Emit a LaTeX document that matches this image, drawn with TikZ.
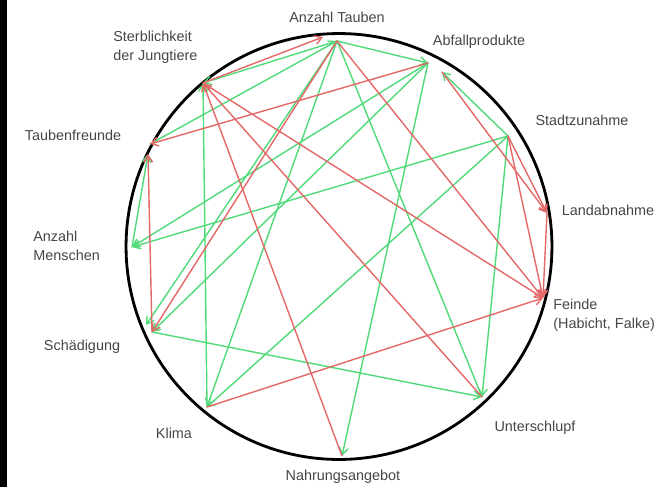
\documentclass[tikz,border=0pt]{standalone}
\usepackage{fontspec}
\setmainfont{Liberation Sans}
\usetikzlibrary{arrows.meta}
\definecolor{posgreen}{RGB}{80,218,120}
\definecolor{negred}{RGB}{228,104,104}
\definecolor{labelgray}{RGB}{70,70,70}

\begin{document}
\begin{tikzpicture}[x=0.02cm, y=-0.02cm, line cap=round, line join=round, >={Straight Barb[length=4pt,width=5pt]}, font=\fontsize{8.2}{11}\selectfont]
		\tikzset{poslink/.style={->, posgreen, line width=0.8pt}, neglink/.style={->, negred, line width=0.8pt}, lbl/.style={text=labelgray, inner sep=0pt, align=left}}
		\useasboundingbox (0,0) rectangle (663,487);
		\fill[black] (0,0) rectangle (7,487);
		\draw[line width=1.6pt] (339,246.5) circle (4.26cm);
		% points on the ring
		\coordinate (tauben) at (337,41);
		\coordinate (tauben2) at (323,37);
		\coordinate (abfall) at (428,63);
		\coordinate (abfall2) at (442,72);
		\coordinate (stadt) at (508,136);
		\coordinate (land) at (547,213);
		\coordinate (feinde) at (543,298);
		\coordinate (unter) at (482,397);
		\coordinate (nahrung) at (342,456);
		\coordinate (klima) at (207,407);
		\coordinate (schaden) at (152,332);
		\coordinate (schaden2) at (146,325);
		\coordinate (menschen) at (132,247);
		\coordinate (freunde) at (150,144);
		\coordinate (freunde2) at (148,154);
		\coordinate (sterbl) at (203,83);
		% labels
		\node[lbl] (lTauben) at (337,17) {Anzahl Tauben};
		\node[lbl, anchor=west] (lSterbl) at (113,47) {Sterblichkeit\\der Jungtiere};
		\node[lbl] (lAbfall) at (479,42) {Abfallprodukte};
		\node[lbl] (lStadt) at (582,120) {Stadtzunahme};
		\node[lbl] (lLand) at (608,210) {Landabnahme};
		\node[lbl, anchor=west] (lFeinde) at (553,315) {Feinde\\(Habicht, Falke)};
		\node[lbl] (lUnter) at (535,428) {Unterschlupf};
		\node[lbl] (lNahrung) at (343,477) {Nahrungsangebot};
		\node[lbl] (lKlima) at (174,433) {Klima};
		\node[lbl] (lSchaden) at (82,347) {Schädigung};
		\node[lbl, anchor=west] (lMenschen) at (33,246) {Anzahl\\Menschen};
		\node[lbl] (lFreunde) at (73,135) {Taubenfreunde};
		% green links
		\foreach \a/\b in {tauben/sterbl, freunde/tauben, menschen/freunde2, stadt/menschen, abfall/menschen, tauben/abfall, abfall/schaden, abfall/nahrung, stadt/abfall2, klima/sterbl, tauben/klima, stadt/klima, schaden/unter, tauben/unter, stadt/unter, tauben/schaden2} {
			\draw[poslink] (\a) -- (\b);
		}
		% red links
		\foreach \a/\b in {sterbl/tauben2, abfall/freunde, schaden/freunde2, nahrung/sterbl, unter/sterbl, sterbl/feinde, tauben/feinde, klima/feinde, stadt/feinde, stadt/land, abfall2/land, land/feinde, tauben/schaden} {
			\draw[neglink] (\a) -- (\b);
		}
	\end{tikzpicture}
\end{document}
